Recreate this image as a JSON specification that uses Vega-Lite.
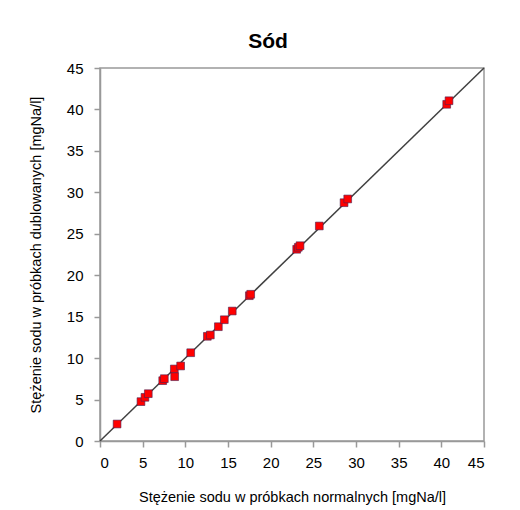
{
  "$schema": "https://vega.github.io/schema/vega-lite/v6.json",
  "width": 384,
  "height": 373,
  "autosize": "none",
  "padding": {"left": 100, "top": 68, "right": 36, "bottom": 69},
  "background": "white",
  "title": {"text": "Sód", "fontSize": 21, "fontWeight": "bold", "font": "Liberation Sans", "color": "#000000", "offset": 9, "anchor": "middle", "dx": -24},
  "config": {
    "view": {"stroke": "#999999", "strokeWidth": 1.5},
    "axis": {
      "labelFont": "Liberation Sans", "titleFont": "Liberation Sans",
      "labelFontSize": 15, "titleFontSize": 14.5, "labelColor": "#000000", "titleColor": "#000000",
      "titleFontWeight": "normal", "domainColor": "#999999", "domainWidth": 1.5,
      "tickColor": "#999999", "tickWidth": 1.5, "tickSize": 6, "grid": false
    }
  },
  "layer": [
    {
      "data": {"values": [{"x": 0, "y": 0}, {"x": 45, "y": 45}]},
      "mark": {"type": "line", "color": "#404040", "strokeWidth": 1.5},
      "encoding": {
        "x": {"field": "x", "type": "quantitative", "scale": {"domain": [0, 45], "nice": false}, "axis": {"values": [0,5,10,15,20,25,30,35,40,45], "title": "Stężenie sodu w próbkach normalnych [mgNa/l]", "titlePadding": 20, "labelPadding": 8}},
        "y": {"field": "y", "type": "quantitative", "scale": {"domain": [0, 45], "nice": false}, "axis": {"values": [0,5,10,15,20,25,30,35,40,45], "title": "Stężenie sodu w próbkach dublowanych [mgNa/l]", "titlePadding": 23, "labelPadding": 11}}
      }
    },
    {
      "data": {"values": [
        {"x": 2.0, "y": 2.05},
        {"x": 4.8, "y": 4.75},
        {"x": 5.27, "y": 5.27},
        {"x": 5.66, "y": 5.71},
        {"x": 7.35, "y": 7.28},
        {"x": 7.54, "y": 7.52},
        {"x": 8.71, "y": 8.69},
        {"x": 8.75, "y": 7.76},
        {"x": 9.45, "y": 9.05},
        {"x": 10.63, "y": 10.65},
        {"x": 12.58, "y": 12.63},
        {"x": 12.93, "y": 12.79},
        {"x": 13.87, "y": 13.79},
        {"x": 14.57, "y": 14.63},
        {"x": 15.5, "y": 15.68},
        {"x": 17.5, "y": 17.53},
        {"x": 17.66, "y": 17.7},
        {"x": 23.05, "y": 23.13},
        {"x": 23.24, "y": 23.37},
        {"x": 23.44, "y": 23.56},
        {"x": 25.7, "y": 25.94},
        {"x": 28.6, "y": 28.75},
        {"x": 29.03, "y": 29.2},
        {"x": 40.63, "y": 40.62},
        {"x": 40.9, "y": 41.05}
      ]},
      "mark": {"type": "square", "filled": true, "size": 60, "color": "#ff0000", "stroke": "#4a2050", "strokeWidth": 0.6, "opacity": 1},
      "encoding": {
        "x": {"field": "x", "type": "quantitative"},
        "y": {"field": "y", "type": "quantitative"}
      }
    }
  ]
}
